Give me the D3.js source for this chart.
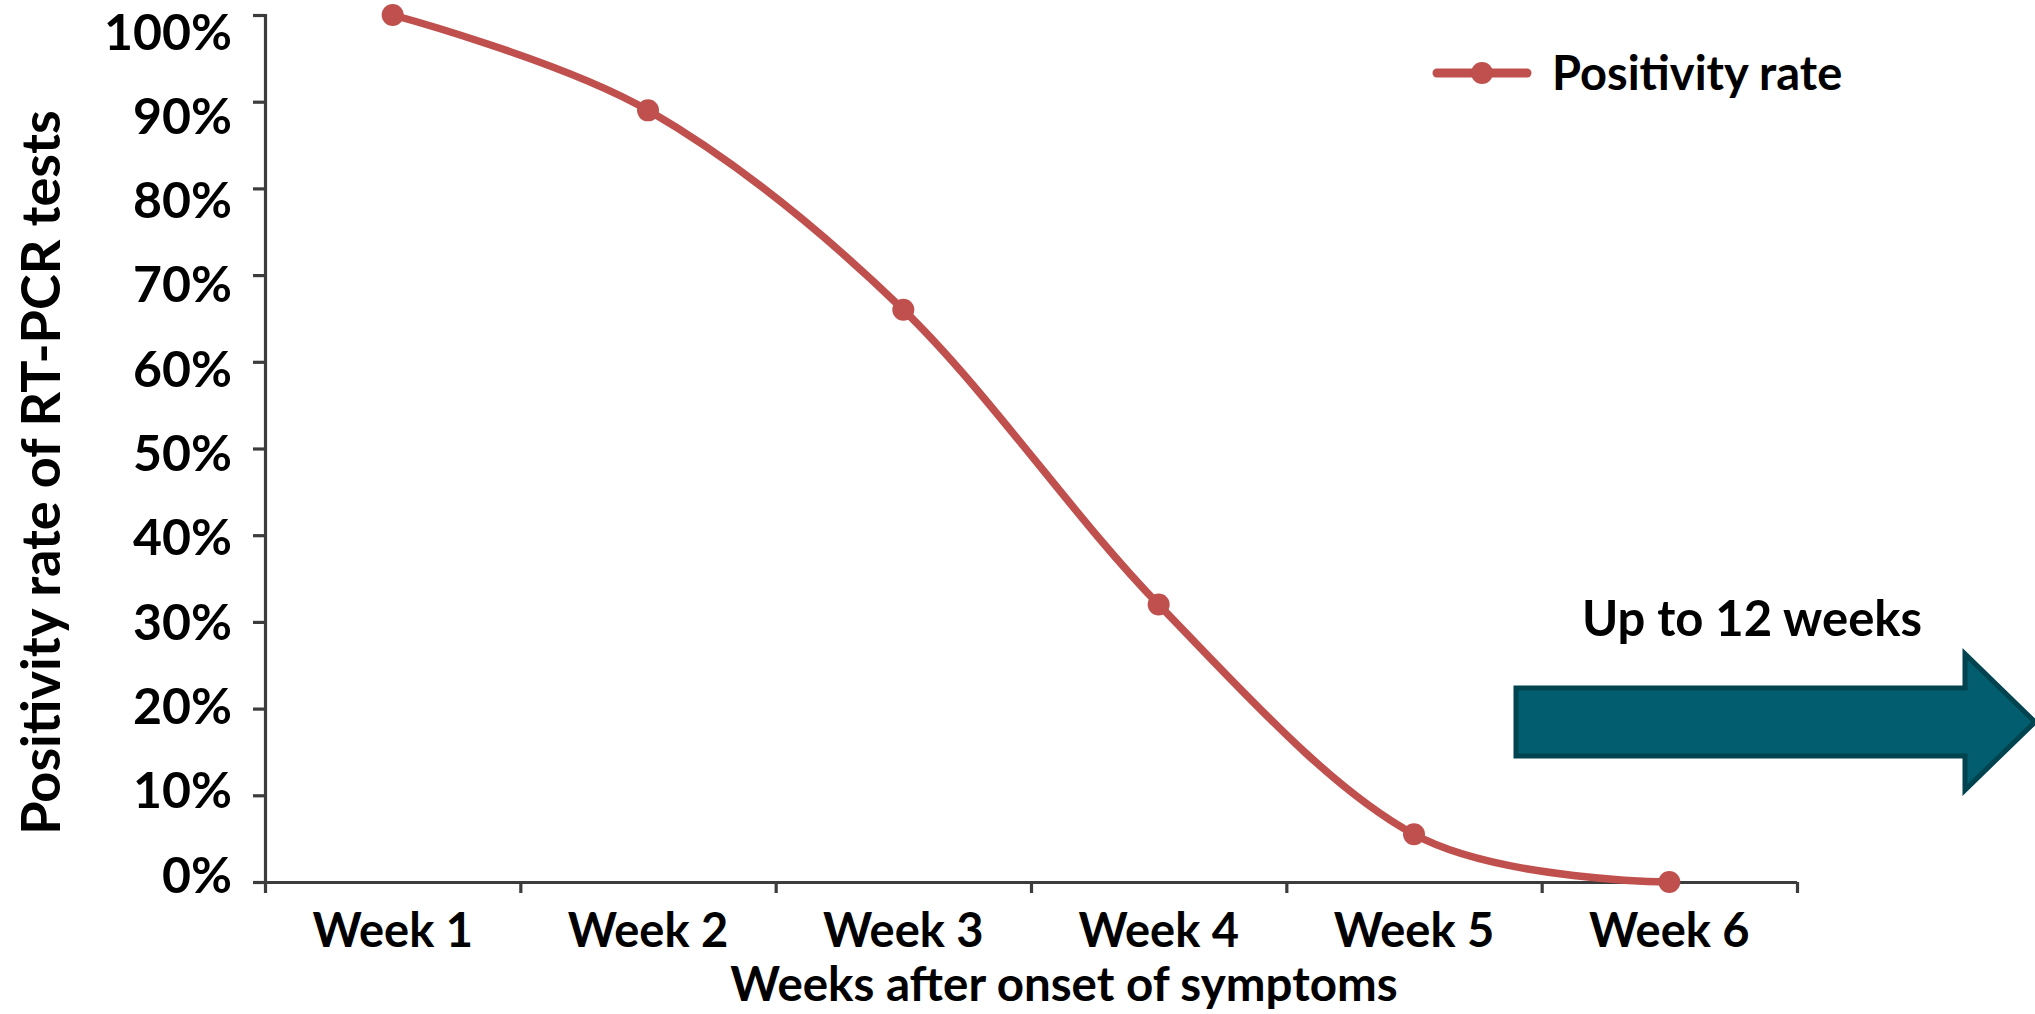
<!DOCTYPE html>
<html>
<head>
<meta charset="utf-8">
<script src="https://cdn.jsdelivr.net/npm/d3@7"></script>
<style>
  html, body { margin: 0; padding: 0; background: #ffffff; }
  svg { display: block; }
  text { font-family: Lato, "Open Sans", sans-serif; font-weight: 700; fill: #000; }
</style>
</head>
<body>
<svg id="chart" width="2035" height="1014"></svg>
<script>
// Weekly positivity of RT-PCR tests after symptom onset
const weeks = ["Week 1", "Week 2", "Week 3", "Week 4", "Week 5", "Week 6"];
const positivity = [1.00, 0.89, 0.66, 0.32, 0.055, 0.00];
const yTicks = [0, 0.1, 0.2, 0.3, 0.4, 0.5, 0.6, 0.7, 0.8, 0.9, 1.0];
const seriesName = "Positivity rate";
const yTitle = "Positivity rate of RT-PCR tests";
const xTitle = "Weeks after onset of symptoms";
const arrowText = "Up to 12 weeks";

const lineColor = "#C0504D";
const axisColor = "#3c3c3c";

const plot = { left: 265, right: 1797, top: 15, bottom: 882 };

const svg = d3.select("#chart");

const x = d3.scaleBand().domain(weeks).range([plot.left, plot.right]);
const xEdges = d3.scaleLinear().domain([0, weeks.length]).range([plot.left, plot.right]);
const y = d3.scaleLinear().domain([0, 1]).range([plot.bottom, plot.top]);
// tick labels sit on a marginally tighter spacing than the tick marks
const yLabel = d3.scaleLinear().domain([0, 1]).range([plot.bottom - 7, plot.top + 17]);

// Y axis
const gy = svg.append("g")
  .attr("transform", `translate(${plot.left},0)`)
  .call(d3.axisLeft(y).tickValues(yTicks).tickSize(12).tickPadding(21)
    .tickFormat(d3.format(".0%")));
gy.selectAll("text")
  .style("font-size", "50px")
  .attr("dy", d => (yLabel(d) - y(d)) + 17);

// X axis: boundary ticks
const gxEdges = svg.append("g")
  .attr("transform", `translate(0,${plot.bottom})`)
  .call(d3.axisBottom(xEdges).ticks(weeks.length).tickSize(11).tickSizeOuter(0).tickFormat(""));
gxEdges.select(".domain").attr("d", `M${plot.left - 12},0.5H${plot.right}`);

// X axis: category labels
const gx = svg.append("g")
  .attr("transform", `translate(0,${plot.bottom})`)
  .call(d3.axisBottom(x).tickSize(0).tickSizeOuter(0));
gx.select(".domain").remove();
gx.selectAll("text").style("font-size", "47px").attr("y", 65).attr("dy", 0);

svg.selectAll(".domain, .tick line")
  .attr("stroke", axisColor).attr("stroke-width", 3.2);
svg.selectAll(".tick text").attr("fill", "#000");

// Axis titles
svg.append("text")
  .attr("transform", `translate(60,${(plot.top + plot.bottom) / 2 + 24}) rotate(-90)`)
  .attr("text-anchor", "middle")
  .style("font-size", "54px")
  .text(yTitle);

svg.append("text")
  .attr("x", 1064).attr("y", 1001)
  .attr("text-anchor", "middle")
  .style("font-size", "47.5px")
  .text(xTitle);

// Series line and markers
const cx = d => x(d) + x.bandwidth() / 2;
const line = d3.line()
  .x((d, i) => cx(weeks[i]))
  .y(d => y(d))
  .curve(d3.curveCardinal.tension(0));

svg.append("path")
  .datum(positivity)
  .attr("fill", "none")
  .attr("stroke", lineColor)
  .attr("stroke-width", 7.5)
  .attr("stroke-linejoin", "round")
  .attr("d", line);

svg.append("g").selectAll("circle")
  .data(positivity)
  .join("circle")
  .attr("cx", (d, i) => cx(weeks[i]))
  .attr("cy", d => y(d))
  .attr("r", 11)
  .attr("fill", lineColor);

// Legend
const lg = svg.append("g").attr("transform", "translate(1437,73)");
lg.append("line").attr("x1", 0).attr("x2", 90).attr("y1", 0).attr("y2", 0)
  .attr("stroke", lineColor).attr("stroke-width", 9).attr("stroke-linecap", "round");
lg.append("circle").attr("cx", 45).attr("cy", 0).attr("r", 11).attr("fill", lineColor);
lg.append("text").attr("x", 115).attr("y", 17).style("font-size", "47px").text(seriesName);

// Arrow annotation
const arrow = { x0: 1516, xHead: 1965, xTip: 2035, cy: 722, body: 34, head: 68 };
svg.append("path")
  .attr("d", `M${arrow.x0},${arrow.cy - arrow.body}
    H${arrow.xHead} V${arrow.cy - arrow.head}
    L${arrow.xTip},${arrow.cy}
    L${arrow.xHead},${arrow.cy + arrow.head}
    V${arrow.cy + arrow.body} H${arrow.x0} Z`)
  .attr("fill", "#025E6F")
  .attr("stroke", "#01434F")
  .attr("stroke-width", 5)
  .attr("stroke-linejoin", "miter");

svg.append("text")
  .attr("x", 1752).attr("y", 636)
  .attr("text-anchor", "middle")
  .style("font-size", "49px")
  .text(arrowText);
</script>
</body>
</html>
